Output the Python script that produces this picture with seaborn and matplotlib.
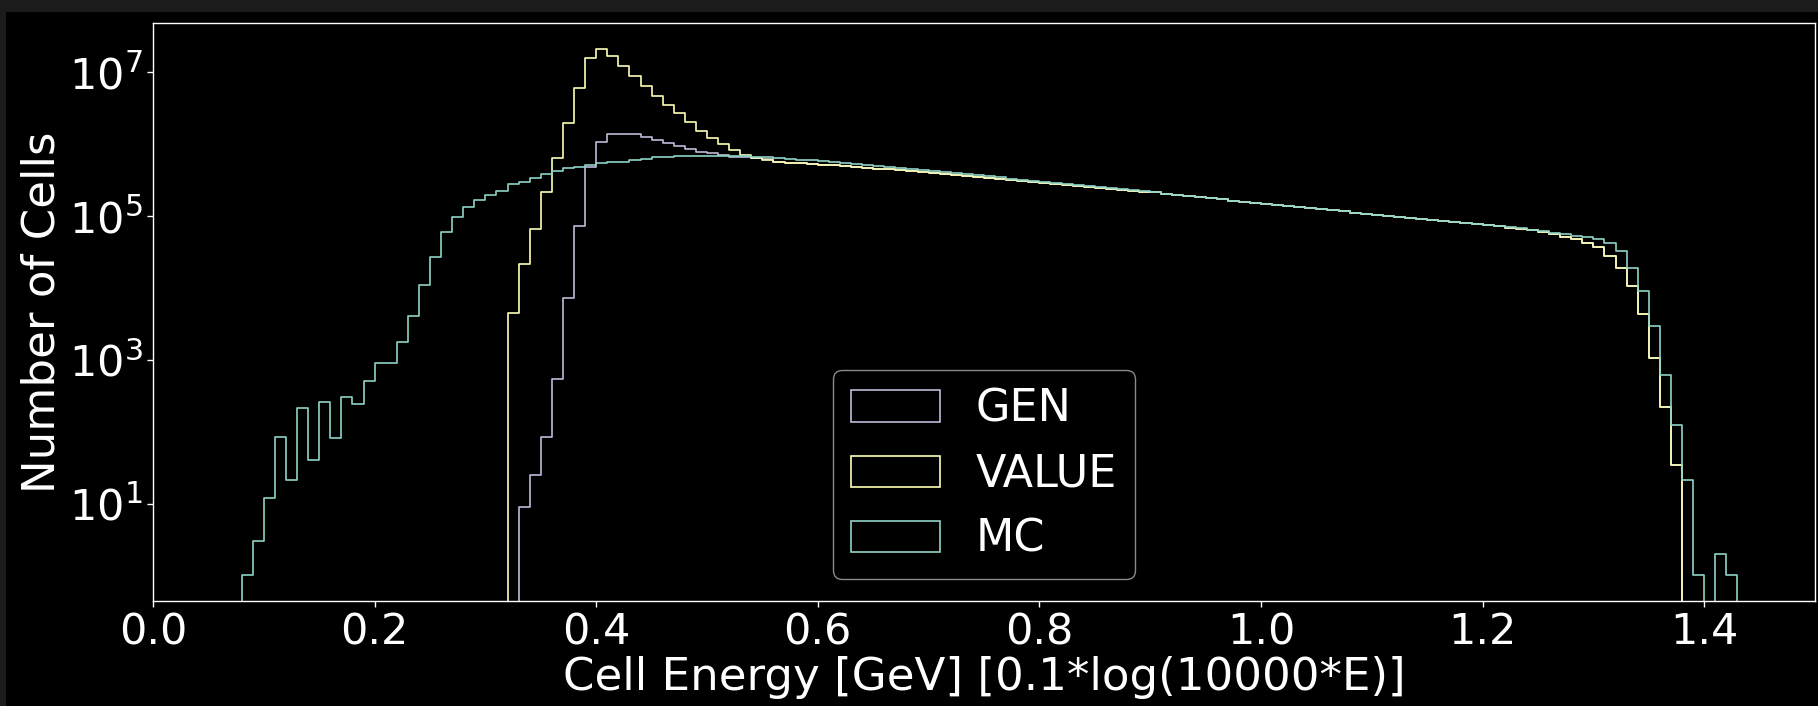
import numpy as np
import pandas as pd
import matplotlib
matplotlib.use("Agg")
import matplotlib.pyplot as plt
from matplotlib.patches import Patch, Rectangle
from matplotlib.ticker import NullLocator
import seaborn as sns

# Binning of the energy axis (0.01 wide bins from 0 to 1.5)
BIN_WIDTH = 0.01
N_BINS = 150

series_names = ["GEN", "VALUE", "MC"]

# Cell counts per bin; each list starts at the given bin edge
mc_start = 0.08
mc_counts = [
    1, 3, 12, 84, 21, 211, 41, 261, 81, 307,                      # 0.08-0.17
    243, 512, 893, 893, 1786, 4065, 10970, 26700, 60500, 95900,   # 0.18-0.27
    134700, 167000, 196000, 225000, 279000, 300000, 341000, 384000, 427000, 460000,  # 0.28-0.37
    485000, 512000, 541000, 569000, 569000, 601000, 621000, 655000, 655000, 682000,  # 0.38-0.47
    682000, 685000, 686000, 685000, 683000, 679000, 670000, 658000, 643000, 627000,  # 0.48-0.57
    611000, 596000, 579000, 564000, 547000, 530000, 513000, 497000, 481000, 466000,  # 0.58-0.67
    451000, 436000, 423000, 409000, 395000, 383000, 370000, 357000, 345000, 333000,  # 0.68-0.77
    322000, 311000, 301000, 290000, 281000, 271000, 262000, 253000, 244000, 236000,  # 0.78-0.87
    228000, 220000, 213000, 205000, 198000, 191000, 184000, 177000, 171000, 164000,  # 0.88-0.97
    158000, 153000, 148000, 142000, 137000, 133000, 128000, 124000, 120000, 116000,  # 0.98-1.07
    112000, 108000, 104000, 101000, 97700, 94600, 91600, 88700, 85900, 83200,        # 1.08-1.17
    80500, 77800, 75200, 72600, 70000, 67500, 64900, 62100, 58200, 55600,            # 1.18-1.27
    53200, 51500, 48300, 42600, 32600, 19100, 9060, 2980, 615, 123,                  # 1.28-1.37
    21, 1, 0, 2, 1,                                                                  # 1.38-1.42
]

value_start = 0.32
value_counts = [
    4440, 21700, 65300, 218000, 647000, 1950000, 6100000, 15600000,  # 0.32-0.39
    20800000, 16800000, 12200000, 8850000, 6430000, 4670000, 3470000, 2680000,  # 0.40-0.47
    2010000, 1520000, 1210000, 993000, 828000, 705000, 647000, 601000,  # 0.48-0.55
    569000, 551000, 541000, 533000, 521000, 509000, 497000, 483000,    # 0.56-0.63
    470000, 457000, 445000, 432000, 420000, 407000, 395000, 385000,    # 0.64-0.71
    372000, 362000, 351000, 340000, 330000, 319000, 309000, 300000,    # 0.72-0.79
    290000, 281000, 272000, 264000, 256000, 248000, 240000, 233000,    # 0.80-0.87
    226000, 219000, 213000, 205000, 198000, 191000, 184000, 177000,    # 0.88-0.95
    171000, 164000, 158000, 153000, 148000, 142000, 137000, 133000,    # 0.96-1.03
    128000, 124000, 120000, 116000, 112000, 108000, 104000, 101000,    # 1.04-1.11
    97700, 94600, 91600, 88700, 85900, 83200, 80500, 77800,            # 1.12-1.19
    74800, 72100, 69300, 66500, 63500, 60000, 55600, 51500,            # 1.20-1.27
    47400, 41700, 37400, 27800, 19100, 10600, 4340, 1070,              # 1.28-1.35
    221, 34,                                                           # 1.36-1.37
]

gen_start = 0.33
gen_low_counts = [
    9, 25, 84, 536, 7360, 72900, 485000,                 # 0.33-0.39
    1080000, 1380000, 1380000, 1370000, 1270000, 1140000, 1030000,  # 0.40-0.46
    942000, 845000, 783000, 745000, 705000, 668000, 655000, 634000,  # 0.47-0.54
    614000,                                              # 0.55
]
# Above 0.56 the GEN spectrum lies on top of the VALUE spectrum
gen_join = 0.56

colors = {"GEN": "#bfbbd9", "VALUE": "#feffb3", "MC": "#8dd3c7"}

x_ticks = [0.0, 0.2, 0.4, 0.6, 0.8, 1.0, 1.2, 1.4]
y_ticks = [1e1, 1e3, 1e5, 1e7]


def full_counts(start, counts):
    arr = np.zeros(N_BINS)
    i0 = int(round(start / BIN_WIDTH))
    arr[i0:i0 + len(counts)] = counts
    return arr


edges = [round(i * BIN_WIDTH, 2) for i in range(N_BINS + 1)]
centers = np.array(edges[:-1]) + BIN_WIDTH / 2

value_full = full_counts(value_start, value_counts)
gen_full = full_counts(gen_start, gen_low_counts)
j = int(round(gen_join / BIN_WIDTH))
gen_full[j:] = value_full[j:]

data = pd.DataFrame({
    "energy": np.tile(centers, 3),
    "cells": np.concatenate([gen_full, value_full, full_counts(mc_start, mc_counts)]),
    "sample": np.repeat(series_names, N_BINS),
})
# empty bins drop below the log axis
data["weight"] = data["cells"].where(data["cells"] > 0, 1e-3)

plt.style.use("dark_background")
plt.rcParams["font.family"] = ["DejaVu Sans"]

fig = plt.figure(figsize=(18.18, 7.06), dpi=100, facecolor="black")
ax = fig.add_axes([153 / 1818, 105 / 706, 1662 / 1818, 578 / 706])
ax.set_facecolor("black")

for name in series_names:
    sub = data[data["sample"] == name]
    sns.histplot(data=sub, x="energy", weights="weight", bins=edges,
                 element="step", fill=False, color=colors[name],
                 linewidth=1.2, ax=ax)

ax.set_yscale("log")
ax.set_xlim(0, 1.5)
ax.set_ylim(10 ** -0.355, 10 ** 7.686)
ax.set_xticks(x_ticks)
ax.set_yticks(y_ticks)
ax.yaxis.set_minor_locator(NullLocator())
ax.tick_params(axis="both", labelsize=31, colors="white", length=4, width=1)
for sp in ax.spines.values():
    sp.set_color("white")
    sp.set_linewidth(1.0)

ax.set_xlabel("Cell Energy [GeV] [0.1*log(10000*E)]", fontsize=32.5, color="white", labelpad=2)
ax.set_ylabel("Number of Cells", fontsize=32.5, color="white", labelpad=4)

handles = [Patch(facecolor="none", edgecolor=colors[n], linewidth=1.2, label=n)
           for n in series_names]
leg = ax.legend(handles=handles, loc="lower center", fontsize=32,
                frameon=True, facecolor="black", edgecolor="#8a8a8a", framealpha=1.0)

# thin dark strips along the top and left edges of the canvas
fig.patches.append(Rectangle((0, 1 - 12 / 706), 1, 12 / 706, transform=fig.transFigure,
                             facecolor="#1b1b1b", edgecolor="none", zorder=10))
fig.patches.append(Rectangle((0, 0), 6 / 1818, 1, transform=fig.transFigure,
                             facecolor="#1b1b1b", edgecolor="none", zorder=10))

fig.savefig("out.png", dpi=100, facecolor="black")
